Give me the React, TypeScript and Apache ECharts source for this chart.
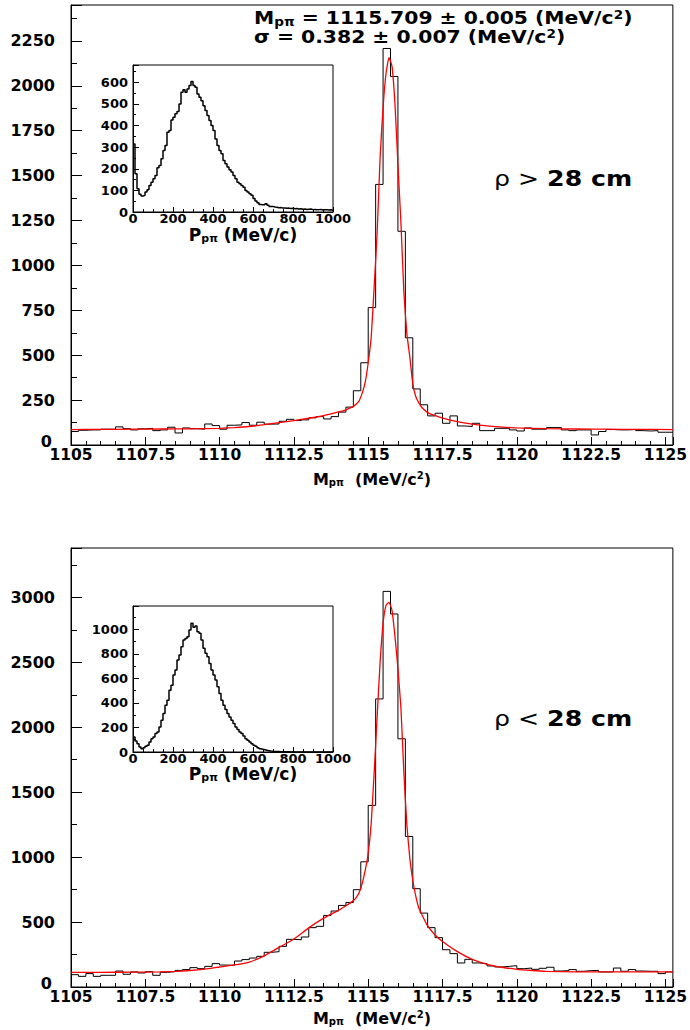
import React, { useEffect, useRef } from "react";
import * as echarts from "echarts";

// ---- binning ----
const MASS_MIN = 1105;
const MASS_BIN = 0.25;
const P_MIN = 0;
const P_BIN = 10;

// ---- top panel (rho > 28 cm): 81 bins of 0.25 MeV/c^2 from 1105 ----
const topCounts = [
  75, 82, 84, 84, 88, 88, 101, 91, 84, 90,
  93, 80, 84, 99, 67, 95, 91, 88, 117, 108,
  88, 110, 112, 125, 110, 127, 116, 117, 132, 143,
  136, 140, 151, 158, 145, 158, 183, 211, 302, 458,
  765, 1451, 2208, 2052, 1190, 597, 312, 224, 162, 177,
  121, 162, 106, 103, 121, 80, 80, 93, 93, 84,
  78, 95, 88, 88, 97, 97, 84, 80, 84, 84,
  56, 75, 86, 84, 84, 86, 80, 78, 80, 71, 71,
];
const topFitMass = [
  1105, 1106, 1107, 1108, 1109, 1110, 1110.5, 1111, 1111.5, 1112,
  1112.5, 1113, 1113.5, 1114, 1114.25, 1114.5, 1114.6, 1114.7, 1114.8, 1114.9,
  1115.0, 1115.1, 1115.2, 1115.3, 1115.4, 1115.5, 1115.6, 1115.7, 1115.8, 1115.9,
  1116.0, 1116.1, 1116.2, 1116.3, 1116.4, 1116.5, 1116.6, 1116.7, 1116.8, 1117.0,
  1117.25, 1117.5, 1118, 1118.5, 1119, 1119.5, 1120, 1121, 1122, 1123, 1124, 1125.25,
];
const topFitValue = [
  86, 87, 88, 89, 90, 93, 97, 103, 113, 124,
  136, 149, 164, 184, 196, 215, 228, 248, 290, 350,
  458, 600, 880, 1180, 1600, 1880, 2070, 2157, 2110, 1900,
  1560, 1240, 850, 620, 490, 340, 270, 235, 210, 180,
  163, 150, 130, 116, 106, 100, 95, 91, 89, 88, 87, 86,
];

// ---- bottom panel (rho < 28 cm) ----
const bottomCounts = [
  95, 82, 103, 82, 90, 90, 123, 98, 116, 108,
  118, 90, 113, 118, 128, 134, 149, 141, 159, 180,
  169, 167, 200, 211, 223, 236, 267, 272, 313, 367,
  364, 385, 457, 467, 551, 585, 628, 651, 749, 964,
  1398, 2218, 3046, 2872, 1911, 1159, 757, 569, 457, 380,
  287, 257, 185, 213, 185, 180, 162, 154, 159, 164,
  141, 146, 136, 144, 152, 123, 126, 134, 121, 126,
  128, 116, 116, 146, 121, 134, 123, 121, 121, 103, 116,
];
const bottomFitMass = [
  1105, 1106, 1107, 1108, 1108.5, 1109, 1109.5, 1110, 1110.5, 1111,
  1111.5, 1112, 1112.5, 1113, 1113.5, 1114, 1114.25, 1114.5, 1114.6, 1114.7,
  1114.8, 1114.9, 1115.0, 1115.1, 1115.2, 1115.3, 1115.4, 1115.5, 1115.6, 1115.7,
  1115.8, 1115.9, 1116.0, 1116.1, 1116.2, 1116.3, 1116.4, 1116.5, 1116.6, 1116.7,
  1116.8, 1117.0, 1117.25, 1117.5, 1118, 1118.5, 1119, 1119.5, 1120, 1120.5,
  1121, 1122, 1123, 1124, 1125.25,
];
const bottomFitValue = [
  113, 113, 114, 116, 120, 127, 138, 154, 170, 192,
  240, 305, 370, 455, 530, 590, 625, 665, 690, 730,
  800, 900, 1030, 1260, 1650, 2080, 2500, 2800, 2940, 2962,
  2900, 2700, 2450, 2150, 1650, 1250, 990, 820, 700, 610,
  560, 470, 400, 350, 272, 213, 175, 152, 136, 127,
  121, 117, 116, 116, 116,
];

// ---- insets: momentum P_ppi, 100 bins of 10 MeV/c ----
const insetTopCounts = [
  315, 177, 108, 82, 74, 77, 92, 103, 123, 138,
  154, 169, 205, 215, 246, 285, 308, 369, 377, 426,
  438, 454, 465, 500, 554, 565, 554, 569, 585, 604,
  585, 577, 546, 531, 515, 492, 469, 446, 423, 400,
  377, 338, 308, 285, 269, 238, 223, 208, 195, 185,
  169, 154, 138, 131, 123, 115, 100, 92, 85, 77,
  62, 51, 43, 35, 34, 34, 38, 31, 26, 26,
  23, 22, 20, 21, 18, 19, 17, 18, 16, 17,
  15, 16, 14, 15, 13, 14, 12, 13, 14, 11,
  12, 10, 11, 12, 9, 10, 11, 9, 10, 8,
];
const insetBottomCounts = [
  123, 90, 68, 41, 27, 35, 46, 55, 82, 109,
  123, 150, 164, 204, 259, 313, 381, 422, 504, 545,
  627, 668, 749, 790, 858, 913, 926, 940, 995, 1049,
  1016, 1027, 981, 967, 913, 845, 804, 777, 722, 668,
  627, 586, 531, 477, 422, 381, 346, 313, 286, 259,
  232, 204, 183, 164, 150, 131, 109, 95, 82, 68,
  55, 46, 35, 27, 22, 19, 14, 11, 8, 6,
  5, 4, 4, 3, 3, 2, 2, 2, 1, 2,
  1, 1, 1, 1, 1, 0, 1, 0, 0, 1,
  0, 0, 0, 1, 0, 0, 0, 0, 0, 0,
];

const FONT = "'DejaVu Sans', 'Liberation Sans', Arial, sans-serif";
const plain = (v: number) => String(v);
const yMain = (v: number) => (v === 0 ? "{z|0}" : "{d|" + String(v) + "}");

function histSteps(counts: number[], x0: number, w: number) {
  const pts: number[][] = counts.map((c, i) => [x0 + i * w, c]);
  pts.push([x0 + counts.length * w, counts[counts.length - 1]]);
  return pts;
}
function pairs(xs: number[], ys: number[]) {
  return xs.map((x, i) => [x, ys[i]]);
}

function massAxis(gridIndex: number) {
  return {
    type: "value",
    gridIndex,
    min: 1105,
    max: 1125.25,
    interval: 2.5,
    axisLine: { show: true, lineStyle: { color: "#000", width: 1 } },
    axisTick: { show: true, inside: true, length: 8, lineStyle: { color: "#000" } },
    minorTick: { show: true, splitNumber: 5, length: 4, lineStyle: { color: "#000" } },
    splitLine: { show: false },
    axisLabel: {
      showMaxLabel: false,
      formatter: plain,
      color: "#000",
      fontFamily: FONT,
      fontWeight: "bold",
      fontSize: 15.5,
      margin: 2,
    },
  };
}
function countAxis(gridIndex: number, max: number, interval: number) {
  const lab = { fontFamily: FONT, fontWeight: "bold", fontSize: 16, color: "#000" };
  return {
    type: "value",
    gridIndex,
    min: 0,
    max,
    interval,
    axisLine: { show: true, lineStyle: { color: "#000", width: 1 } },
    axisTick: { show: true, inside: true, length: 11, lineStyle: { color: "#000" } },
    minorTick: { show: true, splitNumber: 2, length: 6, lineStyle: { color: "#000" } },
    splitLine: { show: false },
    axisLabel: {
      showMaxLabel: false,
      formatter: yMain,
      color: "#000",
      fontFamily: FONT,
      fontWeight: "bold",
      fontSize: 16,
      margin: 16,
      rich: {
        d: { ...lab },
        z: { ...lab, padding: [0, 3, 8, 0] },
      },
    },
  };
}
function momentumAxis(gridIndex: number) {
  return {
    type: "value",
    gridIndex,
    min: 0,
    max: 1000,
    interval: 200,
    axisLine: { show: true, lineStyle: { color: "#000", width: 1 } },
    axisTick: { show: true, inside: true, length: 5, lineStyle: { color: "#000" } },
    minorTick: { show: true, splitNumber: 4, length: 3, lineStyle: { color: "#000" } },
    splitLine: { show: false },
    axisLabel: {
      formatter: plain,
      color: "#000",
      fontFamily: FONT,
      fontWeight: "bold",
      fontSize: 13,
      margin: 0,
      lineHeight: 13,
    },
  };
}
function insetCountAxis(gridIndex: number, max: number, interval: number) {
  return {
    type: "value",
    gridIndex,
    min: 0,
    max,
    interval,
    axisLine: { show: true, lineStyle: { color: "#000", width: 1 } },
    axisTick: { show: true, inside: true, length: 6, lineStyle: { color: "#000" } },
    minorTick: { show: true, splitNumber: 2, length: 3, lineStyle: { color: "#000" } },
    splitLine: { show: false },
    axisLabel: {
      showMaxLabel: false,
      formatter: plain,
      color: "#000",
      fontFamily: FONT,
      fontWeight: "bold",
      fontSize: 13,
      margin: 5,
    },
  };
}

const richBase = (size: number, sub: number) => ({
  b: { fontFamily: FONT, fontWeight: "bold", fontSize: size, fill: "#000", verticalAlign: "middle", lineHeight: size + 1 },
  s: { fontFamily: FONT, fontWeight: "bold", fontSize: sub, fill: "#000", verticalAlign: "bottom", lineHeight: size + 1 },
  u: { fontFamily: FONT, fontWeight: "bold", fontSize: sub, fill: "#000", verticalAlign: "top", lineHeight: size + 1 },
  n: { fontFamily: FONT, fontWeight: "normal", fontSize: size, fill: "#000", verticalAlign: "middle", lineHeight: size + 1 },
});

function richText(x: number, y: number, text: string, size: number, sub: number, align = "left", scaleX = 1) {
  return {
    type: "text",
    x,
    y,
    scaleX,
    z: 100,
    style: {
      text,
      rich: richBase(size, sub),
      align,
      textAlign: align,
      verticalAlign: "middle",
      textVerticalAlign: "middle",
      fill: "#000",
    },
  };
}

export default function App() {
  const ref = useRef<HTMLDivElement>(null);
  useEffect(() => {
    if (!ref.current) return;
    const chart = echarts.init(ref.current, undefined, { renderer: "svg" });
    const border = { show: true, borderColor: "#000", borderWidth: 1, backgroundColor: "transparent" };
    chart.setOption({
      animation: false,
      backgroundColor: "#fff",
      grid: [
        { left: 71, top: 5, width: 604, height: 440, ...border },
        { left: 133, top: 65, width: 200, height: 147, ...border },
        { left: 71, top: 548, width: 604, height: 439, ...border },
        { left: 133, top: 606, width: 200, height: 146, ...border },
      ],
      xAxis: [massAxis(0), momentumAxis(1), massAxis(2), momentumAxis(3)],
      yAxis: [
        countAxis(0, 2450, 250),
        insetCountAxis(1, 680, 100),
        countAxis(2, 3380, 500),
        insetCountAxis(3, 1190, 200),
      ],
      series: [
        {
          type: "line", xAxisIndex: 0, yAxisIndex: 0, step: "end", symbol: "none",
          data: histSteps(topCounts, MASS_MIN, MASS_BIN),
          lineStyle: { color: "#000", width: 1 }, z: 2,
        },
        {
          type: "line", xAxisIndex: 0, yAxisIndex: 0, symbol: "none", smooth: 0.15,
          data: pairs(topFitMass, topFitValue),
          lineStyle: { color: "#ff0000", width: 1.3 }, z: 3,
        },
        {
          type: "line", xAxisIndex: 1, yAxisIndex: 1, step: "end", symbol: "none",
          data: histSteps(insetTopCounts, P_MIN, P_BIN),
          lineStyle: { color: "#000", width: 1.5 }, z: 4,
        },
        {
          type: "line", xAxisIndex: 2, yAxisIndex: 2, step: "end", symbol: "none",
          data: histSteps(bottomCounts, MASS_MIN, MASS_BIN),
          lineStyle: { color: "#000", width: 1 }, z: 2,
        },
        {
          type: "line", xAxisIndex: 2, yAxisIndex: 2, symbol: "none", smooth: 0.15,
          data: pairs(bottomFitMass, bottomFitValue),
          lineStyle: { color: "#ff0000", width: 1.3 }, z: 3,
        },
        {
          type: "line", xAxisIndex: 3, yAxisIndex: 3, step: "end", symbol: "none",
          data: histSteps(insetBottomCounts, P_MIN, P_BIN),
          lineStyle: { color: "#000", width: 1.5 }, z: 4,
        },
      ],
      graphic: [
        richText(254, 18, "{b|M}{s|pπ}{b| = 1115.709 ± 0.005 (MeV/c}{u|2}{b|)}", 18, 12, "left", 1.13),
        richText(254, 37, "{b|σ = 0.382 ± 0.007 (MeV/c}{u|2}{b|)}", 18, 12, "left", 1.13),
        richText(494, 178, "{n|ρ > }{b|28 cm}", 21, 13, "left", 1.2),
        richText(494, 718, "{n|ρ < }{b|28 cm}", 21, 13, "left", 1.2),
        richText(372, 479, "{b|M}{s|pπ}{b|  (MeV/c}{u|2}{b|)}", 16, 10, "center"),
        richText(372, 1018, "{b|M}{s|pπ}{b|  (MeV/c}{u|2}{b|)}", 16, 10, "center"),
        richText(243, 235, "{b|P}{s|pπ}{b| (MeV/c)}", 17, 11, "center"),
        richText(243, 774, "{b|P}{s|pπ}{b| (MeV/c)}", 17, 11, "center"),
      ],
    });
    return () => chart.dispose();
  }, []);
  return (
    <div
      ref={ref}
      style={{ position: "absolute", left: 0, top: 0, width: 690, height: 1030, background: "#fff" }}
    />
  );
}
